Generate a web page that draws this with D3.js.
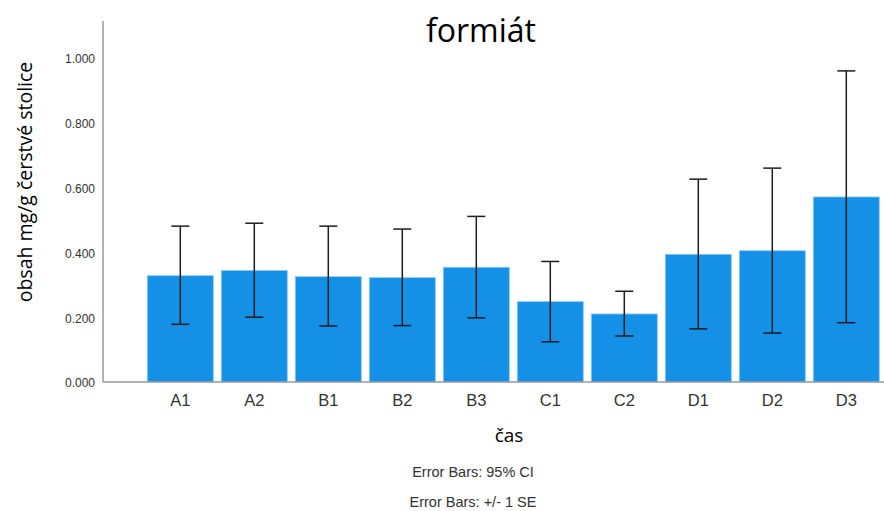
<!DOCTYPE html>
<html>
<head>
<meta charset="utf-8">
<script src="https://cdn.jsdelivr.net/npm/d3@7"></script>
<style>
  html, body { margin: 0; padding: 0; background: #fff; }
  svg { display: block; }
</style>
</head>
<body>
<svg id="chart" width="884" height="511"></svg>
<script>
// Formate content per sampling time: mean with 95% CI bounds
const categories = ["A1", "A2", "B1", "B2", "B3", "C1", "C2", "D1", "D2", "D3"];
const means      = [0.328, 0.344, 0.325, 0.322, 0.354, 0.248, 0.210, 0.394, 0.405, 0.571];
const ciLow      = [0.178, 0.200, 0.173, 0.174, 0.198, 0.124, 0.142, 0.164, 0.151, 0.183];
const ciHigh     = [0.481, 0.490, 0.481, 0.472, 0.511, 0.372, 0.280, 0.626, 0.660, 0.960];
const yTicks     = [0, 0.2, 0.4, 0.6, 0.8, 1.0];

const titleText  = "formiát";
const xTitle     = "čas";
const yTitle     = "obsah mg/g čerstvé stolice";
const footnotes  = ["Error Bars: 95% CI", "Error Bars: +/- 1 SE"];

const svg = d3.select("#chart");
const W = 884, H = 511;
const axisX = 103, baseY = 382, topY = 21;

const x = d3.scaleBand()
  .domain(categories)
  .range([143.3, 883.3])
  .paddingInner(0.108)
  .paddingOuter(0.054);

const y = d3.scaleLinear()
  .domain([0, 1.114])
  .range([baseY, topY]);

const textFont = "'Open Sans', 'Noto Sans', sans-serif";
const tickFont = "'Liberation Sans', Arial, sans-serif";

// Bars
svg.append("g").selectAll("rect")
  .data(categories)
  .join("rect")
  .attr("x", d => x(d))
  .attr("y", (d, i) => y(means[i]))
  .attr("width", x.bandwidth())
  .attr("height", (d, i) => y(0) - y(means[i]))
  .attr("fill", "#1490e6")
  .attr("stroke", "#8fc9f2")
  .attr("stroke-width", 0.8);

// Error bars
const capHalf = 9;
const eb = svg.append("g")
  .attr("stroke", "#1c1c1c")
  .attr("stroke-width", 1.5)
  .attr("fill", "none");
categories.forEach((c, i) => {
  const cx = x(c) + x.bandwidth() / 2;
  eb.append("line")
    .attr("x1", cx).attr("x2", cx)
    .attr("y1", y(ciLow[i])).attr("y2", y(ciHigh[i]));
  eb.append("line")
    .attr("x1", cx - capHalf).attr("x2", cx + capHalf)
    .attr("y1", y(ciHigh[i])).attr("y2", y(ciHigh[i]));
  eb.append("line")
    .attr("x1", cx - capHalf).attr("x2", cx + capHalf)
    .attr("y1", y(ciLow[i])).attr("y2", y(ciLow[i]));
});

// Y axis
const yAxis = svg.append("g")
  .attr("transform", `translate(${axisX},0)`)
  .call(d3.axisLeft(y).tickValues(yTicks).tickFormat(d3.format(".3f")).tickSize(0).tickPadding(8));
yAxis.select(".domain").remove();
yAxis.selectAll("text")
  .attr("font-family", tickFont)
  .attr("font-size", 12)
  .attr("fill", "#333")
  .attr("dy", "0.4em");
svg.append("line")
  .attr("x1", axisX).attr("x2", axisX)
  .attr("y1", topY).attr("y2", baseY)
  .attr("stroke", "#9a9a9a").attr("stroke-width", 1.5);

// X axis
const xAxis = svg.append("g")
  .attr("transform", `translate(0,${baseY})`)
  .call(d3.axisBottom(x).tickSize(0).tickPadding(12));
xAxis.select(".domain").remove();
xAxis.selectAll("text")
  .attr("font-family", tickFont)
  .attr("font-size", 16.5)
  .attr("fill", "#333");
svg.append("line")
  .attr("x1", axisX).attr("x2", W)
  .attr("y1", baseY).attr("y2", baseY)
  .attr("stroke", "#9a9a9a").attr("stroke-width", 1.5);

// Titles
svg.append("text")
  .attr("x", 481).attr("y", 42)
  .attr("text-anchor", "middle")
  .attr("font-family", textFont)
  .attr("font-size", 32)
  .attr("fill", "#000")
  .text(titleText);

svg.append("text")
  .attr("x", 509).attr("y", 442)
  .attr("text-anchor", "middle")
  .attr("font-family", textFont)
  .attr("font-size", 19)
  .attr("fill", "#000")
  .text(xTitle);

svg.append("text")
  .attr("transform", "translate(32,182) rotate(-90)")
  .attr("text-anchor", "middle")
  .attr("font-family", textFont)
  .attr("font-size", 19.5)
  .attr("fill", "#000")
  .text(yTitle);

// Footnotes
svg.append("g").selectAll("text")
  .data(footnotes)
  .join("text")
  .attr("x", 473)
  .attr("y", (d, i) => 477 + i * 30)
  .attr("text-anchor", "middle")
  .attr("font-family", tickFont)
  .attr("font-size", 14.5)
  .attr("fill", "#333")
  .text(d => d);
</script>
</body>
</html>
